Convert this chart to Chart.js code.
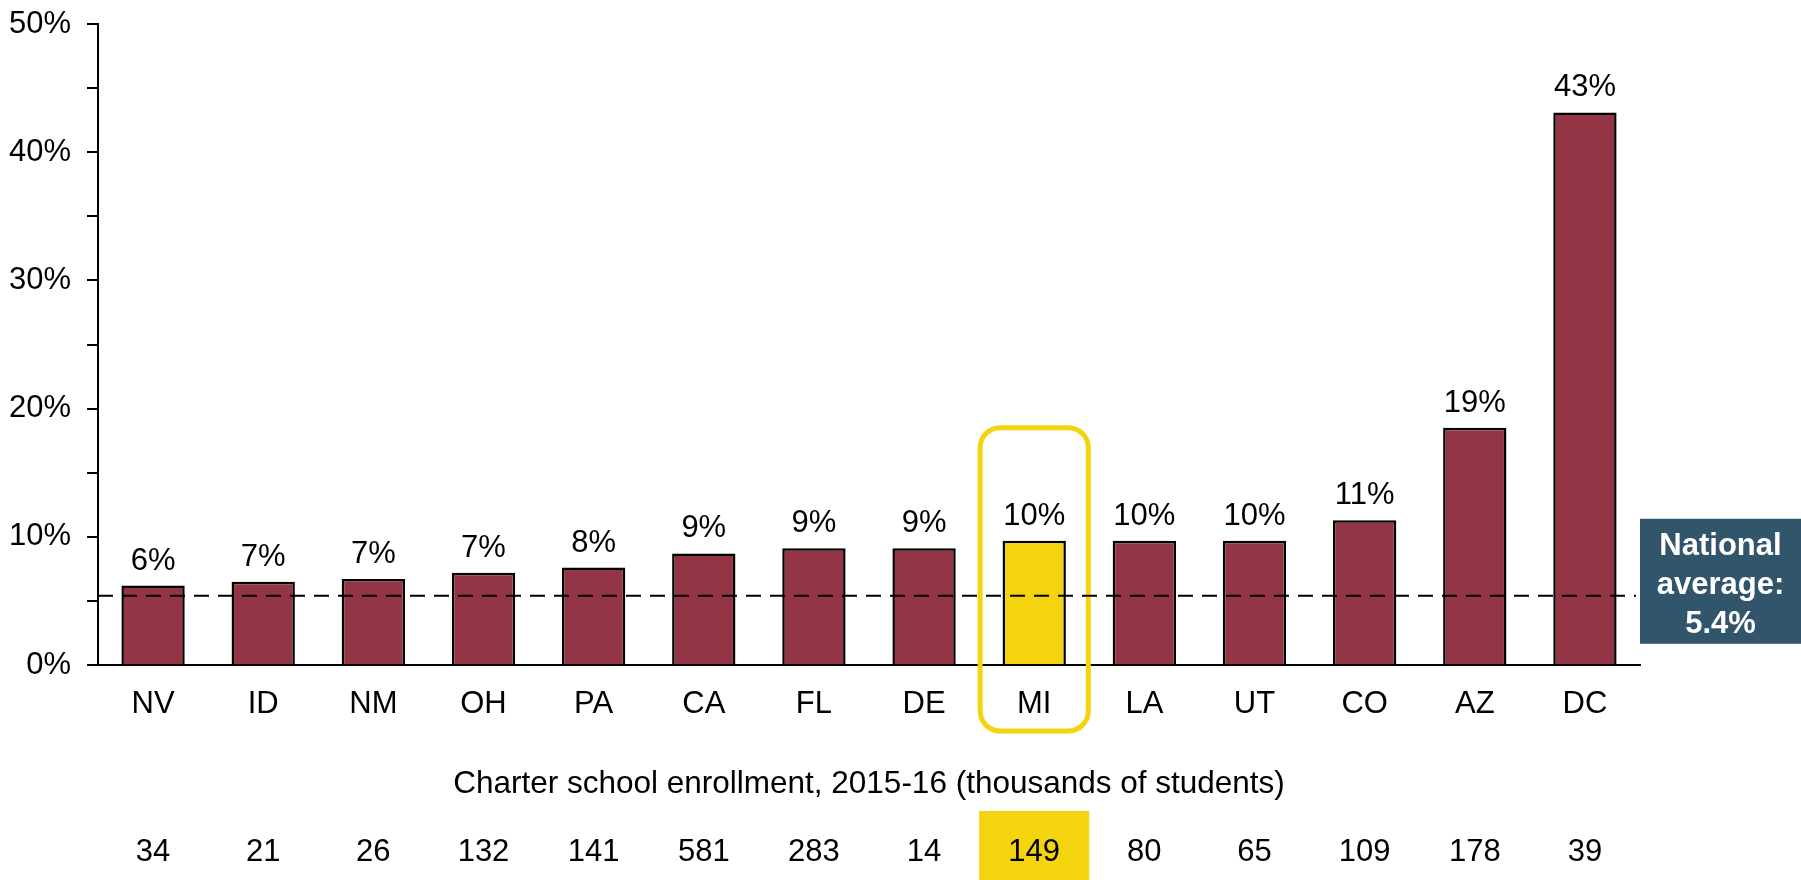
<!DOCTYPE html>
<html>
<head>
<meta charset="utf-8">
<script src="https://cdn.jsdelivr.net/npm/chart.js@4"></script>
<style>
  html, body { margin: 0; padding: 0; background: #fff; }
  #wrap { width: 1801px; height: 880px; }
</style>
</head>
<body>
<div id="wrap"><canvas id="chart" width="1801" height="880"></canvas></div>
<script>
const states = ["NV", "ID", "NM", "OH", "PA", "CA", "FL", "DE", "MI", "LA", "UT", "CO", "AZ", "DC"];
const charterShare = [6.2, 6.5, 6.7, 7.2, 7.6, 8.7, 9.1, 9.1, 9.7, 9.7, 9.7, 11.3, 18.5, 43.1];
const enrollment = [34, 21, 26, 132, 141, 581, 283, 14, 149, 80, 65, 109, 178, 39];
const nationalAverage = 5.4;
const highlightState = "MI";

const FONT = "'Liberation Sans', Arial, Helvetica, sans-serif";
const MAROON = "#943546";
const GOLD = "#F4D40F";
const SLATE = "#31566B";

const hi = states.indexOf(highlightState);

const overlays = {
  id: "overlays",
  beforeDatasetsDraw(chart) {
    const { ctx, chartArea, scales } = chart;
    const x = scales.x;
    const step = x.getPixelForValue(1) - x.getPixelForValue(0);
    // rounded outline round the highlighted state
    const bar = chart.getDatasetMeta(0).data[hi];
    const cx = x.getPixelForValue(hi);
    const top = bar.y - 113;
    ctx.save();
    ctx.strokeStyle = GOLD;
    ctx.lineWidth = 5;
    ctx.beginPath();
    ctx.roundRect(cx - step / 2 + 1, top, step - 2, chartArea.bottom + 66 - top, 20);
    ctx.stroke();
    // gold cell behind the highlighted enrollment number
    ctx.fillStyle = GOLD;
    ctx.fillRect(cx - step / 2, 811, step, 880 - 811);
    ctx.restore();
  },
  afterDatasetsDraw(chart) {
    const { ctx, chartArea, scales } = chart;
    const x = scales.x;
    const y = scales.y;
    const meta = chart.getDatasetMeta(0);
    ctx.save();
    // national average dashed line
    const ay = y.getPixelForValue(nationalAverage);
    ctx.strokeStyle = "#000";
    ctx.lineWidth = 2;
    ctx.setLineDash([15, 9]);
    ctx.beginPath();
    ctx.moveTo(chartArea.left, ay);
    ctx.lineTo(chartArea.right - 4, ay);
    ctx.stroke();
    ctx.setLineDash([]);

    // value labels above bars
    ctx.fillStyle = "#000";
    ctx.font = "31px " + FONT;
    ctx.textAlign = "center";
    ctx.textBaseline = "alphabetic";
    meta.data.forEach((b, i) => {
      ctx.fillText(Math.round(charterShare[i]) + "%", b.x, b.y - 16);
    });

    // enrollment title and row
    const mid = (chartArea.left + chartArea.right) / 2;
    ctx.font = "31.5px " + FONT;
    ctx.fillText("Charter school enrollment, 2015-16 (thousands of students)", mid, 793);
    ctx.font = "31px " + FONT;
    enrollment.forEach((v, i) => {
      ctx.fillText(String(v), x.getPixelForValue(i), 861);
    });

    // national average box
    const bx = chartArea.right;
    const by = ay - 77;
    ctx.fillStyle = SLATE;
    ctx.fillRect(bx, by, 1801 - bx, 125);
    ctx.fillStyle = "#fff";
    ctx.font = "bold 31px " + FONT;
    const tx = bx + (1801 - bx) / 2;
    ctx.fillText("National", tx, by + 36);
    ctx.fillText("average:", tx, by + 75);
    ctx.fillText(nationalAverage + "%", tx, by + 114);
    ctx.restore();
  }
};

new Chart(document.getElementById("chart"), {
  type: "bar",
  data: {
    labels: states,
    datasets: [{
      data: charterShare,
      backgroundColor: states.map((s) => (s === highlightState ? GOLD : MAROON)),
      borderColor: "#000",
      borderWidth: 2.5,
      barPercentage: 0.575,
      categoryPercentage: 1.0
    }]
  },
  options: {
    responsive: false,
    animation: false,
    events: [],
    layout: { padding: { top: 24, right: 161, bottom: 0, left: 0 } },
    plugins: { legend: { display: false }, tooltip: { enabled: false } },
    scales: {
      x: {
        grid: { display: false, drawTicks: false },
        border: { display: true, color: "#000", width: 2 },
        ticks: { color: "#000", font: { family: FONT, size: 31 }, padding: 21, maxRotation: 0 },
        afterFit(scale) { scale.height = 215; }
      },
      y: {
        min: 0,
        max: 50,
        grid: { drawOnChartArea: false, drawTicks: true, tickLength: 11, color: "#000", lineWidth: 2 },
        border: { display: true, color: "#000", width: 2 },
        ticks: {
          stepSize: 5,
          color: "#000",
          padding: 16,
          font: { family: FONT, size: 31 },
          callback: (v) => (v % 10 === 0 ? v + "%" : "")
        },
        afterFit(scale) {
          scale.width = 98;
          scale.paddingTop = 0;
          scale.paddingBottom = 0;
        }
      }
    }
  },
  plugins: [overlays]
});
</script>
</body>
</html>
